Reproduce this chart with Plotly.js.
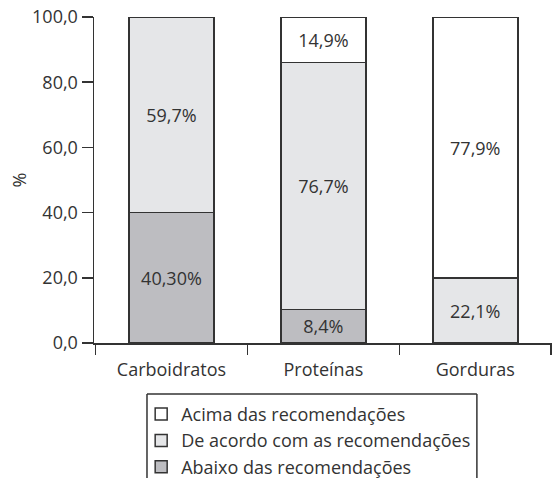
<!DOCTYPE html>
<html>
<head>
<meta charset="utf-8">
<script src="https://cdn.plot.ly/plotly-3.0.1.min.js"></script>
<style>html,body{margin:0;padding:0;background:#fff;}#chart{width:552px;height:478px;}</style>
</head>
<body>
<div id="chart"></div>
<script>
// Categories
var categories = ["Carboidratos", "Proteínas", "Gorduras"];
// Segment heights as drawn in the picture (%); null = no segment
var abaixo = [40.1, 10.3, null];
var deAcordo = [59.9, 75.8, 19.9];
var acima = [null, 13.9, 80.1];
// Printed labels
var abaixoLabels = ["40,30%", "8,4%", ""];
var deAcordoLabels = ["59,7%", "76,7%", "22,1%"];
var acimaLabels = ["", "14,9%", "77,9%"];
// Legend names
var seriesNames = ["Abaixo das recomendações", "De acordo com as recomendações", "Acima das recomendações"];
// Y ticks
var yTicks = [0, 20, 40, 60, 80, 100];

var FONT = "Open Sans, sans-serif";
var TXT = "#333333";
var LINE = "#333333";

function barTrace(y, labels, name, fill) {
  return {
    type: "bar",
    x: categories,
    y: y,
    name: name,
    text: labels,
    textposition: "inside",
    insidetextanchor: "middle",
    constraintext: "none",
    textfont: {family: FONT, size: 18, color: TXT},
    hoverinfo: "none",
    width: 0.56,
    marker: {color: fill, line: {color: LINE, width: 1.5}}
  };
}

var data = [
  barTrace(abaixo, abaixoLabels, seriesNames[0], "#bdbdc1"),
  barTrace(deAcordo, deAcordoLabels, seriesNames[1], "#e5e6e8"),
  barTrace(acima, acimaLabels, seriesNames[2], "#ffffff")
];

var layout = {
  width: 552,
  height: 478,
  margin: {l: 94, r: 0, t: 17, b: 135, autoexpand: false},
  paper_bgcolor: "#ffffff",
  plot_bgcolor: "#ffffff",
  barmode: "stack",
  separators: ",.",
  font: {family: FONT, size: 18, color: TXT},
  showlegend: true,
  legend: {
    traceorder: "reversed",
    x: 0.103, xanchor: "left",
    y: -0.162, yanchor: "top",
    bgcolor: "rgba(0,0,0,0)",
    borderwidth: 0,
    font: {family: FONT, size: 18, color: TXT},
    tracegroupgap: 0
  },
  xaxis: {
    range: [-0.51, 2.505],
    showline: true, linecolor: LINE, linewidth: 1.5,
    ticks: "outside", tickson: "boundaries", ticklen: 10, tickwidth: 1.5, tickcolor: LINE,
    ticklabelstandoff: 10,
    showgrid: false, zeroline: false,
    tickfont: {family: FONT, size: 18, color: TXT}
  },
  yaxis: {
    range: [0, 100],
    showline: true, linecolor: LINE, linewidth: 1.5,
    ticks: "outside", ticklen: 11, tickwidth: 1.5, tickcolor: LINE,
    tickvals: yTicks, tickformat: ".1f",
    showgrid: false, zeroline: false,
    tickfont: {family: FONT, size: 18, color: TXT},
    title: {text: "%", font: {family: FONT, size: 18, color: TXT}, standoff: 1}
  },
  shapes: [
    {type: "line", xref: "paper", yref: "paper", x0: 0.1157, x1: 0.836, y0: -0.1564, y1: -0.1564, line: {color: LINE, width: 1.5}},
    {type: "line", xref: "paper", yref: "paper", x0: 0.1157, x1: 0.1157, y0: -0.1564, y1: -0.43, line: {color: LINE, width: 1.5}},
    {type: "line", xref: "paper", yref: "paper", x0: 0.836, x1: 0.836, y0: -0.1564, y1: -0.43, line: {color: LINE, width: 1.5}}
  ]
};

Plotly.newPlot("chart", data, layout, {displayModeBar: false, staticPlot: true});
</script>
</body>
</html>
